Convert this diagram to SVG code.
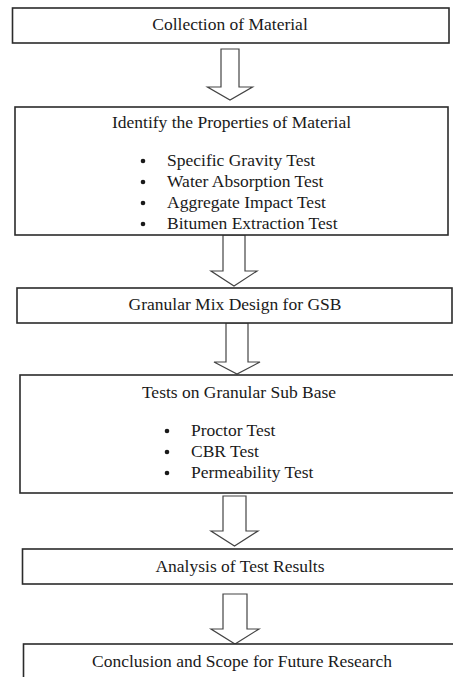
<svg xmlns="http://www.w3.org/2000/svg" width="453" height="677" viewBox="0 0 453 677">
<style>
.box{fill:#fff;stroke:#2b2b2b;stroke-width:1.6}
.arr{fill:#fff;stroke:#444;stroke-width:1.2;stroke-linejoin:miter}
.t{font-family:'Liberation Serif','Times New Roman',Times,serif;font-size:17.5px;fill:#1a1a1a}
.c{text-anchor:middle}
.b{fill:#1a1a1a}
</style>
<rect width="453" height="677" fill="#fff"/>
<g id="connectors">
<path class="arr" d="M221,49 H239 V87 H252.5 L230,100 L207.5,87 H221 Z"/>
<path class="arr" d="M223,235 H245 V271 H257 L234,286 L211,271 H223 Z"/>
<path class="arr" d="M226,323 H248 V362 H260 L237,374 L214,362 H226 Z"/>
<path class="arr" d="M223,496 H246 V531 H258 L234.5,546 L211,531 H223 Z"/>
<path class="arr" d="M223,594 H247 V629 H259 L235,644 L211,629 H223 Z"/>
</g>
<g id="n1">
<rect class="box" x="12.5" y="8" width="436.5" height="35"/>
<text class="t c" x="230" y="30">Collection of Material</text>
</g>
<g id="n2">
<rect class="box" x="15" y="107" width="433" height="128"/>
<text class="t c" x="231.5" y="128">Identify the Properties of Material</text>
<circle class="b" cx="143" cy="161" r="2.3"/>
<text class="t" x="167" y="166">Specific Gravity Test</text>
<circle class="b" cx="143" cy="182" r="2.3"/>
<text class="t" x="167" y="187">Water Absorption Test</text>
<circle class="b" cx="143" cy="203" r="2.3"/>
<text class="t" x="167" y="208">Aggregate Impact Test</text>
<circle class="b" cx="143" cy="224" r="2.3"/>
<text class="t" x="167" y="229">Bitumen Extraction Test</text>
</g>
<g id="n3">
<rect class="box" x="17" y="288" width="435" height="35"/>
<text class="t c" x="235" y="310">Granular Mix Design for GSB</text>
</g>
<g id="n4">
<rect class="box" x="20" y="375" width="440" height="118"/>
<text class="t c" x="239" y="398">Tests on Granular Sub Base</text>
<circle class="b" cx="167" cy="431" r="2.3"/>
<text class="t" x="191" y="436">Proctor Test</text>
<circle class="b" cx="167" cy="452" r="2.3"/>
<text class="t" x="191" y="457">CBR Test</text>
<circle class="b" cx="167" cy="473" r="2.3"/>
<text class="t" x="191" y="478">Permeability Test</text>
</g>
<g id="n5">
<rect class="box" x="22.5" y="549" width="440" height="35"/>
<text class="t c" x="240" y="572">Analysis of Test Results</text>
</g>
<g id="n6">
<rect class="box" x="23.5" y="644" width="440" height="45"/>
<text class="t c" x="242" y="667">Conclusion and Scope for Future Research</text>
</g>
</svg>
